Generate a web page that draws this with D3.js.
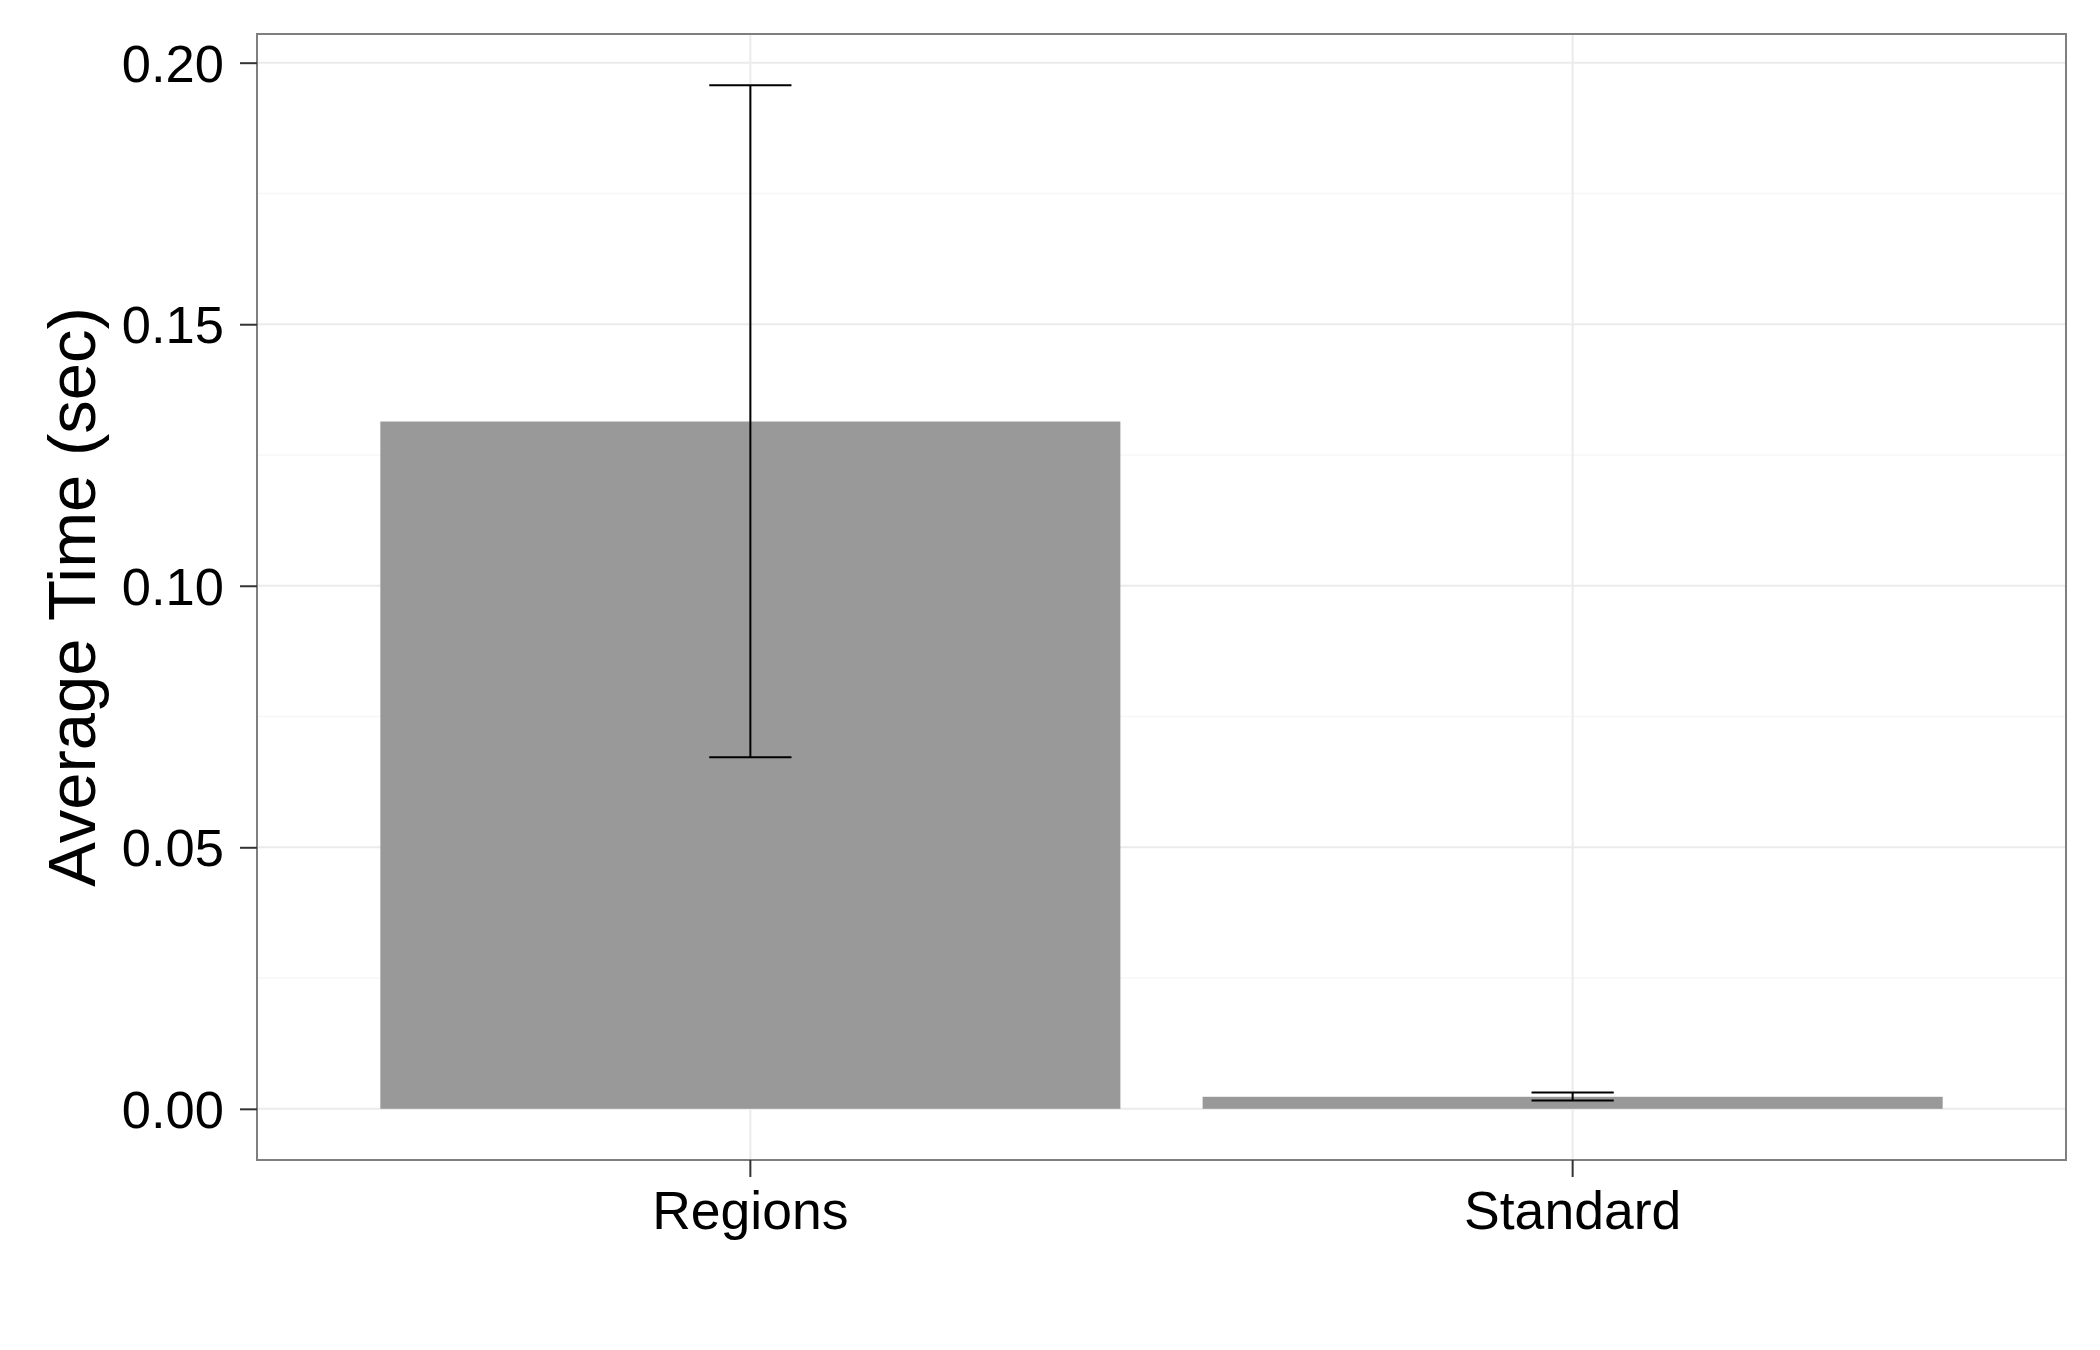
<!DOCTYPE html>
<html>
<head>
<meta charset="utf-8">
<script src="https://cdn.jsdelivr.net/npm/d3@7"></script>
<style>
  html, body { margin: 0; padding: 0; background: #ffffff; }
  svg { display: block; }
  text { font-family: "Liberation Sans", Arial, Helvetica, sans-serif; fill: #000; }
</style>
</head>
<body>
<script>
// ---- data ----
const categories = ["Regions", "Standard"];
const meanTime = [0.1314, 0.0023];
const errLower = [0.0672, 0.0016];
const errUpper = [0.1957, 0.0031];
const yTicks = [0.00, 0.05, 0.10, 0.15, 0.20];
const yMinorTicks = [0.025, 0.075, 0.125, 0.175];
const yTitle = "Average Time (sec)";

// ---- layout ----
const W = 2100, H = 1350;
const panel = { left: 257, right: 2066, top: 34, bottom: 1160 };

const svg = d3.select("body").append("svg")
  .attr("width", W).attr("height", H);

svg.append("rect").attr("width", W).attr("height", H).attr("fill", "#fff");

// scales (ggplot-like expansion)
const dMin = Math.min(0, d3.min(errLower));
const dMax = d3.max(errUpper);
const span = dMax - dMin;
const y = d3.scaleLinear()
  .domain([dMin - 0.05 * span, dMax + 0.05 * span])
  .range([panel.bottom, panel.top]);

const x = d3.scaleBand()
  .domain(categories)
  .range([panel.left, panel.right])
  .paddingInner(0.1)
  .paddingOuter(0.15);

const step = x.step();
const cx = c => x(c) + x.bandwidth() / 2;

// panel background
svg.append("rect")
  .attr("x", panel.left).attr("y", panel.top)
  .attr("width", panel.right - panel.left)
  .attr("height", panel.bottom - panel.top)
  .attr("fill", "#fff");

// minor grid
svg.append("g").selectAll("line").data(yMinorTicks).join("line")
  .attr("x1", panel.left).attr("x2", panel.right)
  .attr("y1", d => y(d)).attr("y2", d => y(d))
  .attr("stroke", "#f7f7f7").attr("stroke-width", 1.5);

// major grid
svg.append("g").selectAll("line").data(yTicks).join("line")
  .attr("x1", panel.left).attr("x2", panel.right)
  .attr("y1", d => y(d)).attr("y2", d => y(d))
  .attr("stroke", "#ebebeb").attr("stroke-width", 2);
svg.append("g").selectAll("line").data(categories).join("line")
  .attr("x1", d => cx(d)).attr("x2", d => cx(d))
  .attr("y1", panel.top).attr("y2", panel.bottom)
  .attr("stroke", "#ebebeb").attr("stroke-width", 2);

// bars
svg.append("g").selectAll("rect").data(categories).join("rect")
  .attr("x", d => x(d))
  .attr("width", x.bandwidth())
  .attr("y", (d, i) => y(meanTime[i]))
  .attr("height", (d, i) => y(0) - y(meanTime[i]))
  .attr("fill", "#999999");

// error bars
const capHalf = step * 0.1 / 2;
const eb = svg.append("g").attr("stroke", "#000").attr("stroke-width", 2).attr("fill", "none");
categories.forEach((c, i) => {
  const xc = cx(c);
  eb.append("line").attr("x1", xc).attr("x2", xc)
    .attr("y1", y(errLower[i])).attr("y2", y(errUpper[i]));
  eb.append("line").attr("x1", xc - capHalf).attr("x2", xc + capHalf)
    .attr("y1", y(errLower[i])).attr("y2", y(errLower[i]));
  eb.append("line").attr("x1", xc - capHalf).attr("x2", xc + capHalf)
    .attr("y1", y(errUpper[i])).attr("y2", y(errUpper[i]));
});

// panel border
svg.append("rect")
  .attr("x", panel.left).attr("y", panel.top)
  .attr("width", panel.right - panel.left)
  .attr("height", panel.bottom - panel.top)
  .attr("fill", "none").attr("stroke", "#7f7f7f").attr("stroke-width", 2);

// y axis
const yAxis = d3.axisLeft(y).tickValues(yTicks).tickFormat(d3.format(".2f"))
  .tickSize(17).tickPadding(16);
const gy = svg.append("g").attr("transform", `translate(${panel.left},0)`).call(yAxis);
gy.select(".domain").remove();
gy.selectAll(".tick line").attr("stroke", "#333").attr("stroke-width", 2);
gy.selectAll(".tick text").attr("font-size", 52.5).attr("fill", "#000")
  .attr("font-family", "Liberation Sans, Arial, sans-serif").attr("dy", "0.35em");

// x axis
const xAxis = d3.axisBottom(x).tickSize(17).tickPadding(14);
const gx = svg.append("g").attr("transform", `translate(0,${panel.bottom})`).call(xAxis);
gx.select(".domain").remove();
gx.selectAll(".tick line").attr("stroke", "#333").attr("stroke-width", 2);
gx.selectAll(".tick text").attr("font-size", 53.5).attr("fill", "#000")
  .attr("font-family", "Liberation Sans, Arial, sans-serif").attr("dy", "0.71em");

// y title
svg.append("text")
  .attr("transform", `translate(95,${(panel.top + panel.bottom) / 2}) rotate(-90)`)
  .attr("text-anchor", "middle")
  .attr("font-size", 67)
  .text(yTitle);
</script>
</body>
</html>
